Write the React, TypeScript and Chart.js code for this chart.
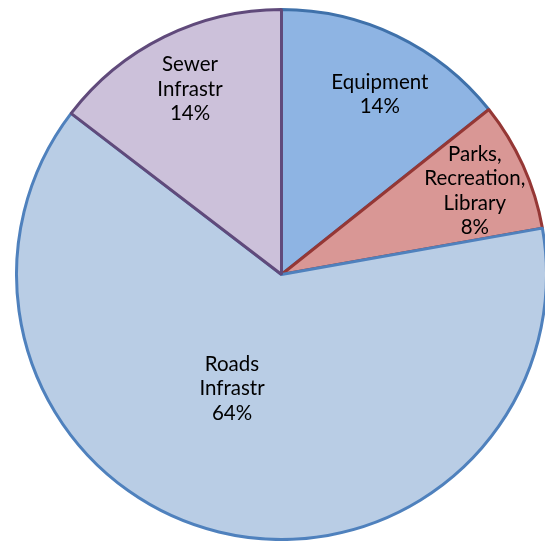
import React, { useEffect, useRef } from "react";
import { Chart, registerables } from "chart.js";

Chart.register(...registerables);

const categories = ["Equipment", "Parks, Recreation, Library", "Roads Infrastr", "Sewer Infrastr"];
const labelLines = [["Equipment"], ["Parks,", "Recreation,", "Library"], ["Roads", "Infrastr"], ["Sewer", "Infrastr"]];
const values = [14.3, 7.9, 63.2, 14.6];
const percentLabels = ["14%", "8%", "64%", "14%"];
const fillColors = ["#8EB4E3", "#D99795", "#B9CDE5", "#CCC1DA"];
const borderColors = ["#3F71AA", "#953735", "#4F81BD", "#604A7B"];
const labelRadius = [0.775, 0.795, 0.47, 0.78];
const labelAngleShift = [0.05, 0.015, 0.17, 0];

const labelPlugin = {
  id: "sliceLabels",
  afterDatasetsDraw(chart: any) {
    const ctx = chart.ctx;
    const meta = chart.getDatasetMeta(0);
    ctx.save();
    ctx.font = "20.5px Lato, 'Open Sans', sans-serif";
    ctx.fillStyle = "#000000";
    ctx.textAlign = "center";
    ctx.textBaseline = "middle";
    const lh = 24.5;
    meta.data.forEach((arc: any, i: number) => {
      const p = arc.getProps(["x", "y", "startAngle", "endAngle", "outerRadius"], true);
      const mid = (p.startAngle + p.endAngle) / 2 + labelAngleShift[i];
      const r = p.outerRadius * labelRadius[i];
      const cx = p.x + Math.cos(mid) * r;
      const cy = p.y + Math.sin(mid) * r;
      const lines = [...labelLines[i], percentLabels[i]];
      const y0 = cy - ((lines.length - 1) * lh) / 2;
      lines.forEach((t, k) => ctx.fillText(t, cx, y0 + k * lh));
    });
    ctx.restore();
  },
};

export default function App() {
  const ref = useRef<HTMLCanvasElement>(null);
  useEffect(() => {
    document.body.style.margin = "0";
    const chart = new Chart(ref.current!, {
      type: "pie",
      data: {
        labels: categories,
        datasets: [
          {
            data: values,
            backgroundColor: fillColors,
            borderColor: borderColors,
            borderWidth: 3,
          },
        ],
      },
      options: {
        responsive: false,
        animation: false,
        devicePixelRatio: 1,
        layout: { padding: { left: 14, top: 8, right: 11, bottom: 0 } },
        plugins: { legend: { display: false }, tooltip: { enabled: false } },
      },
      plugins: [labelPlugin],
    });
    return () => chart.destroy();
  }, []);
  return (
    <div style={{ width: 545, height: 541, overflow: "hidden", background: "#fff" }}>
      <canvas ref={ref} width={560} height={541} />
    </div>
  );
}
